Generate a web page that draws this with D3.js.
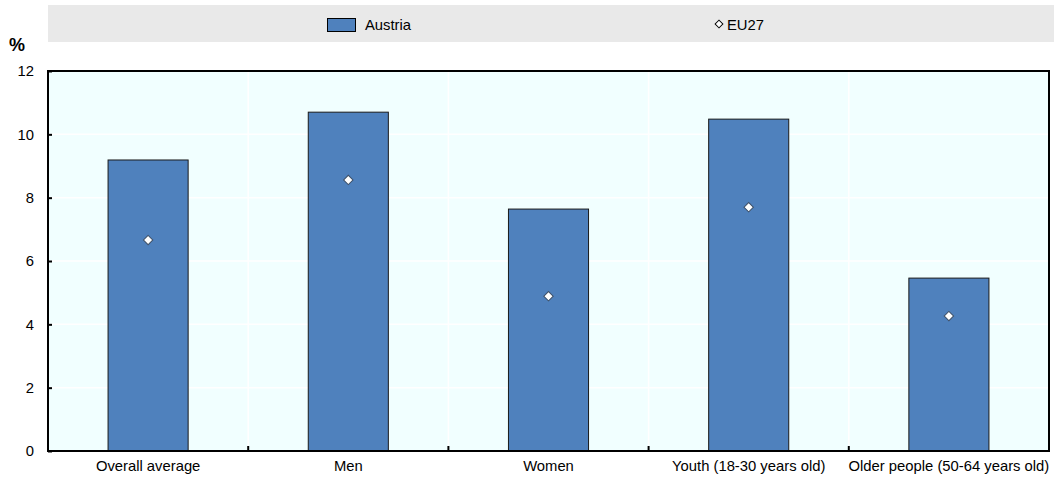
<!DOCTYPE html>
<html>
<head>
<meta charset="utf-8">
<script src="https://cdn.jsdelivr.net/npm/d3@7"></script>
<style>
  body { margin: 0; background: #fff; }
  svg { display: block; font-family: "Liberation Sans", Arial, sans-serif; }
  .axis text { font-size: 14.8px; fill: #000; }
</style>
</head>
<body>
<div id="chart"></div>
<script>
// chart data
var categories = ["Overall average", "Men", "Women", "Youth (18-30 years old)", "Older people (50-64 years old)"];
var austria = [9.19, 10.70, 7.64, 10.48, 5.46];
var eu27 = [6.66, 8.56, 4.89, 7.70, 4.26];
var yTicks = [0, 2, 4, 6, 8, 10, 12];

var width = 1055, height = 481;
var margin = { top: 71, left: 48, right: 6, bottom: 30 };
var innerW = width - margin.left - margin.right,
    innerH = height - margin.top - margin.bottom;

var svg = d3.select("#chart").append("svg")
    .attr("width", width)
    .attr("height", height);

// Legend band
var legend = svg.append("g");
legend.append("rect")
    .attr("x", 48).attr("y", 5)
    .attr("width", 1006).attr("height", 37)
    .attr("fill", "#e9e9e9");
legend.append("rect")
    .attr("x", 327.5).attr("y", 18.5)
    .attr("width", 28).attr("height", 13)
    .attr("fill", "#4f81bd")
    .attr("stroke", "#000").attr("stroke-width", 1);
legend.append("text")
    .attr("x", 365).attr("y", 29.5)
    .attr("font-size", 14.8)
    .text("Austria");
legend.append("path")
    .attr("d", d3.symbol().type(d3.symbolSquare).size(30))
    .attr("transform", "translate(719,24) rotate(45)")
    .attr("fill", "#fff").attr("stroke", "#000").attr("stroke-width", 1);
legend.append("text")
    .attr("x", 727).attr("y", 29.5)
    .attr("font-size", 14.8)
    .text("EU27");

var g = svg.append("g")
    .attr("transform", "translate(" + margin.left + "," + margin.top + ")");

var x = d3.scaleBand()
    .domain(categories)
    .range([0, innerW])
    .paddingInner(0).paddingOuter(0);
var y = d3.scaleLinear()
    .domain([0, 12])
    .range([innerH, 0]);

// Plot background
g.append("rect")
    .attr("width", innerW).attr("height", innerH)
    .attr("fill", "#f1ffff");

// Gridlines
g.selectAll(".hgrid")
  .data(yTicks.slice(1, -1))
  .enter().append("line")
    .attr("x1", 0).attr("x2", innerW)
    .attr("y1", function(d) { return y(d); })
    .attr("y2", function(d) { return y(d); })
    .attr("stroke", "#fff").attr("stroke-width", 1.5);
g.selectAll(".vgrid")
  .data(categories.slice(1))
  .enter().append("line")
    .attr("x1", function(d) { return x(d); })
    .attr("x2", function(d) { return x(d); })
    .attr("y1", 0).attr("y2", innerH)
    .attr("stroke", "#fff").attr("stroke-width", 1.5);

// Bars
var barW = x.bandwidth() * 0.4;
g.selectAll(".bar")
  .data(austria)
  .enter().append("rect")
    .attr("x", function(d, i) { return x(categories[i]) + (x.bandwidth() - barW) / 2; })
    .attr("y", function(d) { return y(d); })
    .attr("width", barW)
    .attr("height", function(d) { return innerH - y(d); })
    .attr("fill", "#4f81bd")
    .attr("stroke", "#1a1a1a").attr("stroke-width", 1);

// EU27 markers
g.selectAll(".marker")
  .data(eu27)
  .enter().append("path")
    .attr("d", d3.symbol().type(d3.symbolSquare).size(44))
    .attr("transform", function(d, i) {
      return "translate(" + (x(categories[i]) + x.bandwidth() / 2) + "," + y(d) + ") rotate(45)";
    })
    .attr("fill", "#fff").attr("stroke", "#3d4f66").attr("stroke-width", 1);

// Y axis
var yAxis = d3.axisLeft(y).tickValues(yTicks).tickSize(-4).tickPadding(14);
g.append("g")
    .attr("class", "y axis")
    .call(yAxis)
    .call(function(s) {
      s.select(".domain").remove();
      s.selectAll(".tick line").attr("stroke", "#000").attr("stroke-width", 2);
    });

// X axis ticks at category boundaries
var bounds = categories.slice(1).map(function(c) { return x(c); });
g.selectAll(".xtick")
  .data(bounds)
  .enter().append("line")
    .attr("x1", function(d) { return d; }).attr("x2", function(d) { return d; })
    .attr("y1", innerH - 5).attr("y2", innerH)
    .attr("stroke", "#000").attr("stroke-width", 2);

var xAxis = d3.axisBottom(x).tickSize(0).tickPadding(9);
g.append("g")
    .attr("class", "x axis")
    .attr("transform", "translate(0," + innerH + ")")
    .call(xAxis)
    .call(function(s) { s.select(".domain").remove(); });

// Frame
g.append("rect")
    .attr("width", innerW).attr("height", innerH)
    .attr("fill", "none")
    .attr("stroke", "#000").attr("stroke-width", 2);

// Unit label
svg.append("text")
    .attr("x", 9).attr("y", 51)
    .attr("font-size", 18).attr("font-weight", "bold")
    .text("%");
</script>
</body>
</html>
